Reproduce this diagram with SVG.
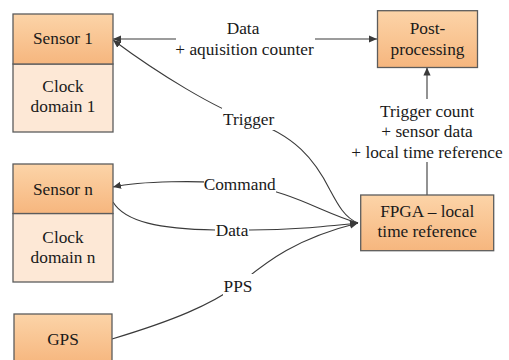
<svg xmlns="http://www.w3.org/2000/svg" width="509" height="360" viewBox="0 0 509 360">
  <defs>
    <linearGradient id="orange" x1="0" y1="0" x2="0" y2="1">
      <stop offset="0" stop-color="#fcd4a8"/>
      <stop offset="1" stop-color="#f6b67e"/>
    </linearGradient>
    <marker id="arrow" viewBox="0 0 10 10" refX="10" refY="5" markerWidth="8" markerHeight="8" markerUnits="userSpaceOnUse" orient="auto-start-reverse">
      <path d="M0,0.5 L10,5 L0,9.5 Z" fill="#3a3a3a"/>
    </marker>
  </defs>
  <style>
    .box { fill: url(#orange); stroke: #5c5c5c; stroke-width: 1.3; }
    .clock { fill: #fde8d6; stroke: #5c5c5c; stroke-width: 1.3; }
    .t { font-family: "Liberation Serif", "DejaVu Serif", serif; font-size: 17.3px; fill: #1a1a1a; text-anchor: middle; }
    .wire { fill: none; stroke: #3a3a3a; stroke-width: 1.1; }
    .gap { fill: #ffffff; }
  </style>
  <rect width="509" height="360" fill="#ffffff"/>

  <!-- connectors -->
  <g id="connectors">
    <!-- sensor 1 data to post-processing -->
    <path class="wire" d="M113,39 L377,39" marker-start="url(#arrow)" marker-end="url(#arrow)"/>
    <rect class="gap" x="176" y="20" width="139" height="40"/>
    <text class="t" x="243" y="34">Data</text>
    <text class="t" x="244.5" y="54.5">+ aquisition counter</text>

    <!-- FPGA to post-processing -->
    <path class="wire" d="M427,195 L427,67.5" marker-end="url(#arrow)"/>
    <rect class="gap" x="340" y="99" width="168" height="63"/>
    <text class="t" x="427" y="116.5">Trigger count</text>
    <text class="t" x="427" y="137">+ sensor data</text>
    <text class="t" x="427" y="157.5">+ local time reference</text>

    <!-- trigger to sensor 1 -->
    <path class="wire" d="M358,223 C345,218 338,205 330,190 C315,160 295,135 249,120 C215,108 160,75 113,40" marker-end="url(#arrow)"/>
    <rect class="gap" x="222" y="108" width="54" height="22"/>
    <text class="t" x="248.7" y="125">Trigger</text>

    <!-- command to sensor n -->
    <path class="wire" d="M358,223 C320,212 295,192 240,184 C200,180 140,181 113,187" marker-end="url(#arrow)"/>
    <rect class="gap" x="204" y="174" width="72" height="20"/>
    <text class="t" x="239.7" y="189.8">Command</text>

    <!-- sensor n data to FPGA -->
    <path class="wire" d="M113,202 C125,222 160,229 215,230 L250,230 C290,230 320,227 358,223" marker-end="url(#arrow)"/>
    <rect class="gap" x="215" y="220" width="34" height="19"/>
    <text class="t" x="232" y="235.5">Data</text>

    <!-- PPS from GPS to FPGA -->
    <path class="wire" d="M112,339 C175,320 210,305 238,285 C262,266 290,240 358,223" marker-end="url(#arrow)"/>
    <rect class="gap" x="223" y="274" width="30" height="24"/>
    <text class="t" x="238" y="291.5">PPS</text>
  </g>

  <!-- nodes -->
  <g id="sensor1">
    <rect class="clock" x="13" y="64" width="100" height="68"/>
    <rect class="box" x="13" y="14" width="100" height="50"/>
    <text class="t" x="63" y="44">Sensor 1</text>
    <text class="t" x="63" y="91.7">Clock</text>
    <text class="t" x="63" y="112.3">domain 1</text>
  </g>

  <g id="sensorN">
    <rect class="clock" x="13" y="213.5" width="100" height="68.5"/>
    <rect class="box" x="13" y="164" width="100" height="49.5"/>
    <text class="t" x="63" y="195">Sensor n</text>
    <text class="t" x="63" y="242.7">Clock</text>
    <text class="t" x="63" y="263.3">domain n</text>
  </g>

  <g id="gps">
    <rect class="box" x="14" y="314" width="98" height="50"/>
    <text class="t" x="63" y="345">GPS</text>
  </g>

  <g id="postprocessing">
    <rect class="box" x="377.5" y="10.7" width="100" height="56.8"/>
    <text class="t" x="427.5" y="34">Post-</text>
    <text class="t" x="427.5" y="54.8">processing</text>
  </g>

  <g id="fpga">
    <rect class="box" x="360.7" y="195" width="133" height="55.7"/>
    <text class="t" x="427.2" y="216.5">FPGA – local</text>
    <text class="t" x="427.2" y="237.3">time reference</text>
  </g>
</svg>
